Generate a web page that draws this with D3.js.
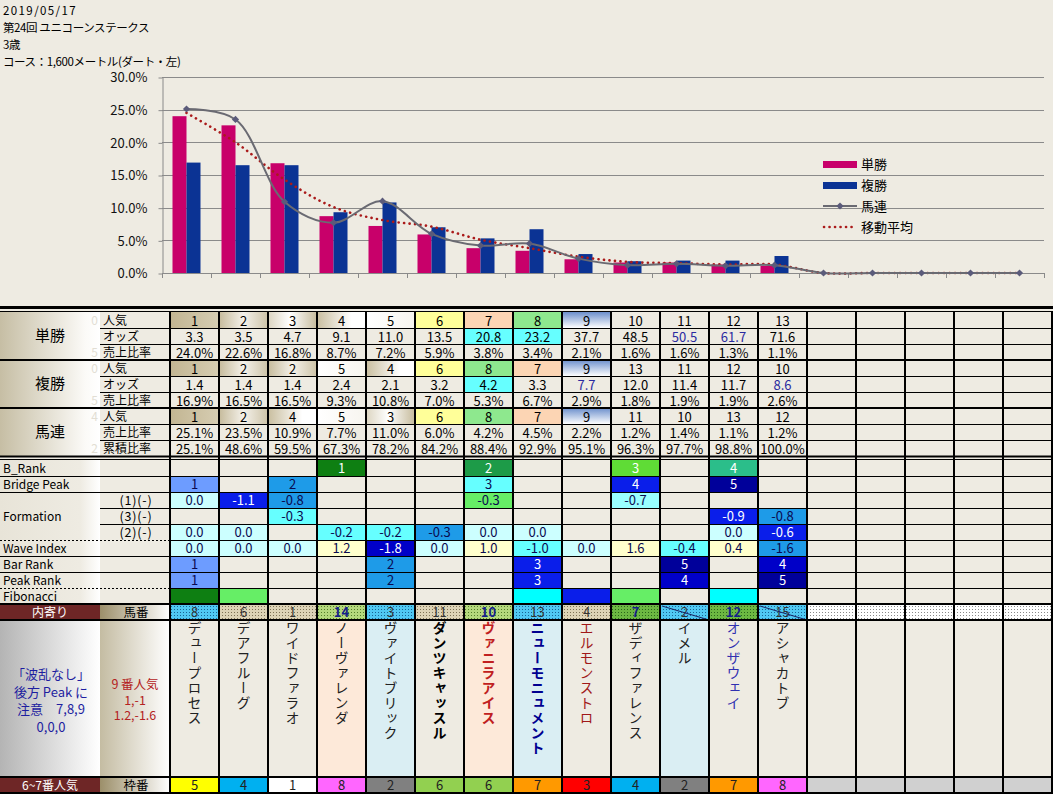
<!DOCTYPE html>
<html>
<head>
<meta charset="utf-8">
<script src="https://cdn.jsdelivr.net/npm/d3@7"></script>
<style>
  body { margin: 0; background: #eeebe2; }
  svg { display: block; }
  text { font-family: "Noto Sans CJK JP", sans-serif; }
</style>
</head>
<body>
<svg width="1053" height="794"></svg>
<script>
const root = d3.select("svg");

// ---------- data ----------
const titleLines = ["2019/05/17", "第24回 ユニコーンステークス", "3歳", "コース：1,600メートル(ダート・左)"];
const slots = d3.range(1, 19);
const yTicks = [0, 5, 10, 15, 20, 25, 30];
const legendNames = ["単勝", "複勝", "馬連", "移動平均"];

const tanShare = [24.0, 22.6, 16.8, 8.7, 7.2, 5.9, 3.8, 3.4, 2.1, 1.6, 1.6, 1.3, 1.1];
const fukuShare = [16.9, 16.5, 16.5, 9.3, 10.8, 7.0, 5.3, 6.7, 2.9, 1.8, 1.9, 1.9, 2.6];
const umarenShare = [25.1, 23.5, 10.9, 7.7, 11.0, 6.0, 4.2, 4.5, 2.2, 1.2, 1.4, 1.1, 1.2, 0, 0, 0, 0, 0];
const movingAvg = [24.5, 20.0, 14.3, 10.1, 8.1, 7.1, 5.1, 3.8, 2.5, 1.7, 1.5, 1.3, 1.3, 0, 0, 0, 0, 0];

const tanPop = [1, 2, 3, 4, 5, 6, 7, 8, 9, 10, 11, 12, 13];
const tanOdds = [3.3, 3.5, 4.7, 9.1, 11.0, 13.5, 20.8, 23.2, 37.7, 48.5, 50.5, 61.7, 71.6];
const fukuPop = [1, 2, 2, 5, 4, 6, 8, 7, 9, 13, 11, 12, 10];
const fukuOdds = [1.4, 1.4, 1.4, 2.4, 2.1, 3.2, 4.2, 3.3, 7.7, 12.0, 11.4, 11.7, 8.6];
const umarenPop = [1, 2, 4, 5, 3, 6, 8, 7, 9, 11, 10, 13, 12];
const umarenShareRow = [25.1, 23.5, 10.9, 7.7, 11.0, 6.0, 4.2, 4.5, 2.2, 1.2, 1.4, 1.1, 1.2];
const umarenCum = [25.1, 48.6, 59.5, 67.3, 78.2, 84.2, 88.4, 92.9, 95.1, 96.3, 97.7, 98.8, 100.0];
const hiddenDigits = ["0", "", "5", "0", "", "5", "4", "", "2"];

const bRank = [null, null, null, 1, null, null, 2, null, null, 3, null, 4, null];
const bridgePeak = [1, null, 2, null, null, null, 3, null, null, 4, null, 5, null];
const form1 = [0.0, -1.1, -0.8, null, null, null, -0.3, null, null, -0.7, null, null, null];
const form3 = [null, null, -0.3, null, null, null, null, null, null, null, null, -0.9, -0.8];
const form2 = [0.0, 0.0, null, -0.2, -0.2, -0.3, 0.0, 0.0, null, null, null, 0.0, -0.6];
const waveIndex = [0.0, 0.0, 0.0, 1.2, -1.8, 0.0, 1.0, -1.0, 0.0, 1.6, -0.4, 0.4, -1.6];
const barRank = [1, null, null, null, 2, null, null, 3, null, null, 5, null, 4];
const peakRank = [1, null, null, null, 2, null, null, 3, null, null, 4, null, 5];
const umaban = [8, 6, 1, 14, 3, 11, 10, 13, 4, 7, 2, 12, 15];
const horseNames = ["デュープロセス", "デアフルーグ", "ワイドファラオ", "ノーヴァレンダ", "ヴァイトブリック",
  "ダンツキャッスル", "ヴァニラアイス", "ニューモニュメント", "エルモンストロ", "ザディファレンス",
  "イメル", "オンザウェイ", "アシャカトブ"];
const wakuban = [5, 4, 1, 8, 2, 6, 6, 7, 3, 4, 2, 7, 8];
const noteLeft = ["「波乱なし」", "後方 Peak に", "注意　7,8,9", "0,0,0"];
const noteRight = ["9 番人気", "1,-1", "1.2,-1.6"];

// ---------- styles ----------
const PINK = "#c8006a";
const NAVY = "#0b3394";
const NUM_FONT = "'DejaVu Sans Mono', monospace";
const LAT_FONT = "'Liberation Sans', Arial, sans-serif";
const JP_FONT = "'Noto Sans CJK JP'";

const palette = {
  lc: "#ccffff", cy: "#66ffff", cy2: "#99ffff", sb: "#1e9be8", cb: "#6d9cff",
  bl: "#0a1eea", db: "#0000c8", nv: "#00009a", ly: "#ffffcc", gn: "#66ee66",
  dg: "#0e7f12", mg: "#1d9b48", lg: "#5fdc36", tg: "#2bbe8a", aq: "#00ffff"
};
const darkKeys = ["bl", "db", "nv", "dg", "mg", "lg", "tg"];

const bRankFill = [0, 0, 0, "dg", 0, 0, "mg", 0, 0, "lg", 0, "tg", 0];
const bridgeFill = ["cb", 0, "sb", 0, 0, 0, "cy", 0, 0, "bl", 0, "nv", 0];
const form1Fill = ["lc", "bl", "sb", 0, 0, 0, "gn", 0, 0, "cy2", 0, 0, 0];
const form3Fill = [0, 0, "cy", 0, 0, 0, 0, 0, 0, 0, 0, "bl", "sb"];
const form2Fill = ["lc", "lc", 0, "cy", "cy", "sb", "lc", "lc", 0, 0, 0, "lc", "bl"];
const waveFill = ["lc", "lc", "lc", "ly", "db", "lc", "ly", "cy", "lc", "ly", "cy", "ly", "sb"];
const barFill = ["cb", 0, 0, 0, "sb", 0, 0, "bl", 0, 0, "nv", 0, "db"];
const peakFill = ["cb", 0, 0, 0, "sb", 0, 0, "bl", 0, 0, "db", 0, "nv"];
const fibFill = ["dg", "gn", 0, 0, 0, 0, 0, "aq", "bl", "gn", 0, "aq", 0];

const umabanFill = ["pBlue", "pTan", "pTan", "pGreenL", "pBlue", "pTan", "pGreenL", "pBlue", "pTan", "pGreen", "pBlue", "pGreen", "pBlue"];
const umabanBold = [0, 0, 0, 1, 0, 0, 1, 0, 0, 1, 0, 1, 0];
const umabanSlash = [0, 0, 0, 0, 0, 0, 0, 0, 0, 0, 1, 0, 1];
const nameBg = ["#eeebe2", "#eeebe2", "#eeebe2", "#fde9d9", "#daeef3", "#eeebe2", "#fde9d9", "#daeef3", "#eeebe2", "#eeebe2", "#daeef3", "#eeebe2", "#eeebe2"];
const nameColor = ["#222", "#222", "#222", "#222", "#222", "#000", "#c02020", "#000090", "#a01818", "#222", "#222", "#3030b0", "#222"];
const nameBold = [0, 0, 0, 0, 0, 1, 1, 1, 0, 0, 0, 0, 0];
const wakuColor = { 1: "#ffffff", 2: "#808080", 3: "#ff0000", 4: "#00b0f0", 5: "#ffff00", 6: "#92d050", 7: "#ff9900", 8: "#ff66ff" };
const popFill = { 1: "url(#pop1)", 2: "url(#pop2)", 3: "url(#pop3)", 4: "url(#pop4)", 5: "url(#pop5)", 6: "#ffff99", 7: "#fcd5b4", 8: "#8ee88e", 9: "url(#pop9)" };

// ---------- defs ----------
const defs = root.append("defs");
const gradient = (id, stops, vertical) => {
  const g = defs.append("linearGradient").attr("id", id)
    .attr("x1", 0).attr("y1", 0).attr("x2", vertical ? 0 : 1).attr("y2", vertical ? 1 : 0);
  stops.forEach(([o, c]) => g.append("stop").attr("offset", o).attr("stop-color", c));
};
gradient("pop1", [[0, "#c2b592"], [1, "#d6cdb2"]]);
gradient("pop2", [[0, "#c6bb9c"], [0.5, "#f4f1ea"], [1, "#cdc3a7"]]);
gradient("pop3", [[0, "#dcd5c1"], [0.45, "#ffffff"], [1, "#c6bb9c"]]);
gradient("pop4", [[0, "#c9be9f"], [0.7, "#ffffff"], [1, "#ffffff"]]);
gradient("pop5", [[0, "#ffffff"], [1, "#f7f5ef"]]);
gradient("pop9", [[0, "#6c8fcc"], [1, "#ffffff"]], true);
gradient("grpHead", [[0, "#c6bea4"], [0.85, "#fbfaf7"], [1, "#ffffff"]]);
gradient("lowHead", [[0, "#e8e4d8"], [0.8, "#eeebe2"], [1, "#ffffff"]]);
gradient("subHead", [[0, "#9c8f6a"], [1, "#ffffff"]]);
gradient("noteHead", [[0, "#b4b4b4"], [1, "#ffffff"]]);
gradient("noteSub", [[0, "#c4bca2"], [1, "#ffffff"]]);

const dotPattern = (id, base, dot) => {
  const p = defs.append("pattern").attr("id", id).attr("width", 3).attr("height", 3)
    .attr("patternUnits", "userSpaceOnUse");
  p.append("rect").attr("width", 3).attr("height", 3).attr("fill", base);
  p.append("rect").attr("width", 1).attr("height", 1).attr("fill", dot);
};
dotPattern("pBlue", "#50c8f2", "#1a6494");
dotPattern("pTan", "#ddd3b6", "#7e7256");
dotPattern("pGreenL", "#b4d87c", "#557f2a");
dotPattern("pGreen", "#6cb842", "#2a661a");
dotPattern("pWhite", "#ffffff", "#8a8a8a");

// ---------- header text ----------
root.append("g").selectAll("text").data(titleLines).join("text")
  .attr("x", 3).attr("y", (d, i) => 15 + i * 17)
  .attr("font-size", 11.5)
  .attr("letter-spacing", (d, i) => i === 0 ? 1.4 : -0.4)
  .attr("fill", "#000")
  .text(d => d);

// ---------- chart ----------
const chart = root.append("g");
const x = d3.scaleBand().domain(slots).range([162, 1044]);
const y = d3.scaleLinear().domain([0, 30]).range([273, 77]);
const cx = i => x(slots[i]) + x.bandwidth() / 2;

chart.append("g").selectAll("line").data(yTicks).join("line")
  .attr("x1", 162).attr("x2", 1044)
  .attr("y1", d => Math.round(y(d)) + 0.5).attr("y2", d => Math.round(y(d)) + 0.5)
  .attr("stroke", "#8a8a8a");

const yAxis = chart.append("g").attr("transform", "translate(162.5,0.5)")
  .call(d3.axisLeft(y).tickValues(yTicks).tickSize(4).tickSizeOuter(0).tickPadding(11)
    .tickFormat(d => d.toFixed(1) + "%"));
yAxis.select(".domain").attr("stroke", "#8a8a8a");
yAxis.selectAll(".tick line").attr("stroke", "#8a8a8a");
yAxis.selectAll("text").attr("font-family", "'DejaVu Sans', sans-serif").attr("font-size", 13).attr("fill", "#111");

const bounds = slots.map(s => x(s)).concat([x.range()[1]]);
chart.append("g").selectAll("line").data(bounds).join("line")
  .attr("x1", d => Math.round(d) + 0.5).attr("x2", d => Math.round(d) + 0.5)
  .attr("y1", y(0)).attr("y2", y(0) + 5).attr("stroke", "#8a8a8a");

const pair = d3.scaleBand().domain(["tan", "fuku"]).range([-14, 14]);
chart.append("g").selectAll("rect").data(tanShare).join("rect")
  .attr("x", (d, i) => cx(i) + pair("tan")).attr("width", pair.bandwidth())
  .attr("y", d => y(d)).attr("height", d => y(0) - y(d)).attr("fill", PINK);
chart.append("g").selectAll("rect").data(fukuShare).join("rect")
  .attr("x", (d, i) => cx(i) + pair("fuku")).attr("width", pair.bandwidth())
  .attr("y", d => y(d)).attr("height", d => y(0) - y(d)).attr("fill", NAVY);

const smooth = d3.line().x((d, i) => cx(i)).y(d => y(d)).curve(d3.curveCatmullRom.alpha(0.5));
chart.append("path").attr("d", smooth(movingAvg)).attr("fill", "none")
  .attr("stroke", "#aa1a1a").attr("stroke-width", 2.6)
  .attr("stroke-dasharray", "0.1 5.4").attr("stroke-linecap", "round");
chart.append("path").attr("d", smooth(umarenShare)).attr("fill", "none")
  .attr("stroke", "#6a6a72").attr("stroke-width", 2);
const diamond = d3.symbol(d3.symbolSquare, 26);
chart.append("g").selectAll("path").data(umarenShare).join("path")
  .attr("transform", (d, i) => `translate(${cx(i)},${y(d)}) rotate(45)`)
  .attr("d", diamond).attr("fill", "#5b5b7a");

// legend
const legend = chart.append("g").attr("transform", "translate(823,0)");
const legendY = [164, 185, 206, 227];
legendNames.forEach((name, i) => {
  const g = legend.append("g").attr("transform", `translate(0,${legendY[i]})`);
  if (i < 2) {
    g.append("rect").attr("x", 0).attr("y", -3).attr("width", 34).attr("height", 7).attr("fill", i === 0 ? PINK : NAVY);
  } else if (i === 2) {
    g.append("line").attr("x1", 0).attr("x2", 34).attr("stroke", "#6a6a72").attr("stroke-width", 2);
    g.append("path").attr("transform", "translate(17,0) rotate(45)").attr("d", diamond).attr("fill", "#5b5b7a");
  } else {
    g.append("line").attr("x1", 1).attr("x2", 34).attr("stroke", "#aa1a1a").attr("stroke-width", 2.6)
      .attr("stroke-dasharray", "0.1 5.4").attr("stroke-linecap", "round");
  }
  g.append("text").attr("x", 38).attr("y", 5).attr("font-size", 13).attr("fill", "#000").text(name);
});

// ---------- table ----------
const table = root.append("g");
const xt = d3.scaleBand().domain(slots).range([170, 1052]);
const colW = xt.bandwidth();
const colMid = i => xt(slots[i]) + colW / 2;
const ROW = 16;

const cellText = (g, xPos, yPos, txt, opts = {}) => g.append("text")
  .attr("x", xPos).attr("y", yPos)
  .attr("text-anchor", opts.anchor || "middle")
  .attr("font-family", opts.font || NUM_FONT)
  .attr("font-size", opts.size || 13)
  .attr("font-weight", opts.bold ? "bold" : null)
  .attr("fill", opts.fill || "#000")
  .text(txt);

// upper block
const upperTop = 312;
const upperRows = [
  { label: "人気", values: tanPop, pop: true },
  { label: "オッズ", values: tanOdds.map(v => v.toFixed(1)), hi: [6, 7], blue: [10, 11] },
  { label: "売上比率", values: tanShare.map(v => v.toFixed(1) + "%") },
  { label: "人気", values: fukuPop, pop: true },
  { label: "オッズ", values: fukuOdds.map(v => v.toFixed(1)), hi: [6], blue: [8, 12] },
  { label: "売上比率", values: fukuShare.map(v => v.toFixed(1) + "%") },
  { label: "人気", values: umarenPop, pop: true },
  { label: "売上比率", values: umarenShareRow.map(v => v.toFixed(1) + "%") },
  { label: "累積比率", values: umarenCum.map(v => v.toFixed(1) + "%") }
];
const groupNames = ["単勝", "複勝", "馬連"];

groupNames.forEach((name, gi) => {
  const top = upperTop + gi * 3 * ROW;
  table.append("rect").attr("x", 0).attr("y", top).attr("width", 100).attr("height", 3 * ROW).attr("fill", "url(#grpHead)");
  cellText(table, 50, top + 29, name, { font: JP_FONT, size: 15 });
});

upperRows.forEach((row, ri) => {
  const top = upperTop + ri * ROW;
  cellText(table, 103, top + 13, row.label, { anchor: "start", font: JP_FONT, size: 12 });
  if (hiddenDigits[ri]) cellText(table, 98, top + 13, hiddenDigits[ri], { anchor: "end", fill: "#e2ded4", font: LAT_FONT, size: 12 });
  row.values.forEach((v, i) => {
    let fill = null;
    if (row.pop) fill = popFill[v] || null;
    if (row.hi && row.hi.includes(i)) fill = "#66ffff";
    if (fill) table.append("rect").attr("x", xt(slots[i])).attr("y", top).attr("width", colW).attr("height", ROW).attr("fill", fill);
    cellText(table, colMid(i), top + 13.5, v, { fill: row.blue && row.blue.includes(i) ? "#2a2aa0" : "#000" });
  });
});

// lower block
const lowerTop = 460;
const lowerRows = [
  { label: "B_Rank", values: bRank, fills: bRankFill, fmt: d => d },
  { label: "Bridge Peak", values: bridgePeak, fills: bridgeFill, fmt: d => d },
  { sub: "(1)(-)", values: form1, fills: form1Fill, fmt: d => d.toFixed(1) },
  { sub: "(3)(-)", values: form3, fills: form3Fill, fmt: d => d.toFixed(1) },
  { sub: "(2)(-)", values: form2, fills: form2Fill, fmt: d => d.toFixed(1) },
  { label: "Wave Index", values: waveIndex, fills: waveFill, fmt: d => d.toFixed(1) },
  { label: "Bar Rank", values: barRank, fills: barFill, fmt: d => d },
  { label: "Peak Rank", values: peakRank, fills: peakFill, fmt: d => d },
  { label: "Fibonacci", values: fibFill.map(() => null), fills: fibFill }
];
table.append("rect").attr("x", 0).attr("y", lowerTop).attr("width", 100).attr("height", 9 * ROW).attr("fill", "url(#lowHead)");
lowerRows.forEach((row, ri) => {
  const top = lowerTop + ri * ROW;
  if (row.label) cellText(table, 3, top + 13, row.label, { anchor: "start", font: LAT_FONT, size: 12 });
  if (row.sub) cellText(table, 136, top + 13, row.sub, { font: LAT_FONT, size: 12.5 }).attr("letter-spacing", 0.8);
  row.fills.forEach((k, i) => {
    if (k) table.append("rect").attr("x", xt(slots[i])).attr("y", top).attr("width", colW).attr("height", ROW).attr("fill", palette[k]);
    const v = row.values[i];
    if (v !== null && v !== undefined) {
      cellText(table, colMid(i), top + 13, row.fmt(v), { fill: darkKeys.includes(k) ? "#fff" : "#0a0a50" });
    }
  });
});
cellText(table, 3, lowerTop + 2 * ROW + 29, "Formation", { anchor: "start", font: LAT_FONT, size: 12 });

// 馬番 row
const umaTop = 604;
table.append("rect").attr("x", 0).attr("y", umaTop).attr("width", 100).attr("height", ROW).attr("fill", "#6e2626");
table.append("rect").attr("x", 100).attr("y", umaTop).attr("width", 70).attr("height", ROW).attr("fill", "url(#subHead)");
cellText(table, 50, umaTop + 13, "内寄り", { font: JP_FONT, size: 12, fill: "#fff" });
cellText(table, 136, umaTop + 13, "馬番", { font: JP_FONT, size: 12.5 });
slots.forEach((s, i) => {
  const fill = i < umaban.length ? `url(#${umabanFill[i]})` : "url(#pWhite)";
  table.append("rect").attr("x", xt(s)).attr("y", umaTop).attr("width", colW).attr("height", ROW).attr("fill", fill);
});
umaban.forEach((v, i) => {
  cellText(table, colMid(i), umaTop + 13, v, { bold: umabanBold[i], fill: umabanBold[i] ? "#14208a" : "#333" });
  if (umabanSlash[i]) {
    table.append("line").attr("x1", xt(slots[i]) + 2).attr("y1", umaTop + 2)
      .attr("x2", xt(slots[i]) + colW).attr("y2", umaTop + ROW).attr("stroke", "#1a2060");
  }
});

// names
const nameTop = 620, nameBottom = 776;
table.append("rect").attr("x", 0).attr("y", nameTop).attr("width", 100).attr("height", nameBottom - nameTop).attr("fill", "url(#noteHead)");
table.append("rect").attr("x", 100).attr("y", nameTop).attr("width", 70).attr("height", nameBottom - nameTop).attr("fill", "url(#noteSub)");
noteLeft.forEach((t, i) => cellText(table, 51, 679 + i * 17.7, t, { font: JP_FONT, size: 13, fill: "#1e1ea0" }));
noteRight.forEach((t, i) => cellText(table, 135, 689 + i * 15.5, t, { font: i === 0 ? JP_FONT : LAT_FONT, size: 12.5, fill: "#b42222" }));
horseNames.forEach((name, i) => {
  table.append("rect").attr("x", xt(slots[i])).attr("y", nameTop).attr("width", colW).attr("height", nameBottom - nameTop).attr("fill", nameBg[i]);
  table.append("text").attr("x", colMid(i)).attr("y", nameTop + 1)
    .style("writing-mode", "vertical-rl")
    .attr("font-size", 14).attr("letter-spacing", 1)
    .attr("font-weight", nameBold[i] ? "bold" : null)
    .attr("fill", nameColor[i]).text(name);
});

// 枠番 row
const wakuTop = 777;
table.append("rect").attr("x", 0).attr("y", wakuTop).attr("width", 100).attr("height", ROW).attr("fill", "#6e2626");
table.append("rect").attr("x", 100).attr("y", wakuTop).attr("width", 70).attr("height", ROW).attr("fill", "url(#subHead)");
cellText(table, 50, wakuTop + 13, "6~7番人気", { font: JP_FONT, size: 12, fill: "#fff" });
cellText(table, 136, wakuTop + 13, "枠番", { font: JP_FONT, size: 12.5 });
slots.forEach((s, i) => {
  const fill = i < wakuban.length ? wakuColor[wakuban[i]] : "#d0d0d0";
  table.append("rect").attr("x", xt(s)).attr("y", wakuTop).attr("width", colW).attr("height", ROW).attr("fill", fill);
});
wakuban.forEach((v, i) => cellText(table, colMid(i), wakuTop + 13, v, { fill: "#222" }));

// ---------- grid lines ----------
const grid = root.append("g").attr("stroke", "#000");
const hline = (yy, x1, w) => grid.append("line")
  .attr("x1", x1).attr("x2", 1053).attr("y1", yy).attr("y2", yy)
  .attr("stroke-width", w);
hline(307.5, 0, 3);
hline(311.5, 0, 1);
[328, 344, 376, 392, 424, 440].forEach(v => hline(v + 0.5, 100, 1));
[360, 408].forEach(v => hline(v, 0, 2));
hline(456.5, 0, 2);
hline(459.5, 0, 1);
[476, 492, 556, 572].forEach(v => hline(v + 0.5, 0, 1));
[508, 524].forEach(v => hline(v + 0.5, 100, 1));
[540, 588].forEach(v => {
  hline(v + 0.5, 170, 1);
  grid.append("line").attr("x1", 0).attr("x2", 170).attr("y1", v + 0.5).attr("y2", v + 0.5).attr("stroke-dasharray", "2 2");
});
[604, 620, 777, 793].forEach(v => hline(v, 0, 2));

const colEdges = slots.map(s => xt(s)).concat([xt.range()[1]]);
grid.selectAll(".vline").data(colEdges).join("line").attr("class", "vline")
  .attr("x1", d => d).attr("x2", d => d).attr("y1", 311).attr("y2", 794)
  .attr("stroke-width", 2);
</script>
</body>
</html>
